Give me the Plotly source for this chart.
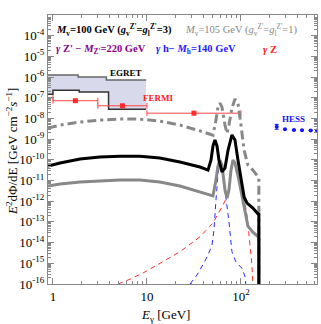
import plotly.graph_objects as go
import numpy as np

# ---------------- data ----------------
# black solid: M_v=100 GeV total
blk_E = [0.885, 1.19, 1.94, 3.16, 5.16, 8.43, 13.7, 22.4, 36.6, 44.6, 48.0, 50.4, 52.9, 55.6, 58.3, 62.8, 67.6, 72.8, 80.2, 86.3, 92.9, 100, 108, 116, 134, 152, 155, 155]
blk_F = [5.0e-11, 7.0e-11, 1.1e-10, 1.36e-10, 1.5e-10, 1.5e-10, 1.23e-10, 7.8e-11, 4.5e-11, 3.2e-11, 9.8e-11, 4.7e-10, 9.2e-10, 4.7e-10, 9.8e-11, 2.6e-11, 4.0e-11, 2.9e-10, 1.6e-9, 9.2e-10, 9.8e-11, 1.05e-11, 1.6e-12, 8.1e-13, 4.7e-13, 2.4e-13, 2.3e-13, 1e-18]

# gray solid
gs_E = [0.885, 1.19, 1.94, 3.16, 5.16, 8.43, 13.7, 22.4, 36.6, 50.4, 54.2, 56.9, 59.8, 62.8, 67.6, 71.0, 74.5, 78.3, 82.2, 86.3, 95.2, 105, 118.6, 134, 152, 155, 155]
gs_F = [5.4e-12, 6.8e-12, 8.5e-12, 9.5e-12, 1.05e-11, 1.05e-11, 8.5e-12, 5.4e-12, 2.8e-12, 1.8e-12, 1.05e-11, 5.0e-11, 9.8e-11, 5.6e-11, 3.5e-12, 1.4e-12, 3.5e-12, 3.2e-11, 9.8e-11, 7.1e-11, 1.05e-11, 1.15e-12, 6.3e-14, 3.2e-14, 1.9e-14, 1.8e-14, 1e-18]

# gray dash-dot: M_v=105 GeV
gd_E = [0.885, 1.19, 1.94, 3.16, 5.16, 8.43, 13.7, 22.4, 36.6, 50.4, 54.2, 56.9, 59.8, 62.8, 67.6, 71.0, 74.5, 80.2, 86.3, 92.9, 100, 108, 118.6, 134, 152, 155, 155]
gd_F = [3.4e-9, 4.8e-9, 6.8e-9, 8.3e-9, 9.3e-9, 9.3e-9, 7.4e-9, 4.8e-9, 2.5e-9, 1.55e-9, 8.3e-9, 3.5e-8, 5.5e-8, 3.5e-8, 4.8e-9, 1.9e-9, 4.8e-9, 3.2e-8, 8.7e-8, 5.5e-8, 4.8e-9, 2.9e-10, 5.6e-11, 3.2e-11, 1.5e-11, 1.4e-11, 1e-18]

# blue dashed: gamma h
bl_E = [28.7, 34.0, 39.3, 44.6, 49.2, 51.6, 54.2, 56.9, 59.8, 62.8, 67.6, 71.0, 74.5, 80.2, 88.4, 102, 110, 112.7]
bl_F = [1e-16, 2.7e-16, 8.3e-16, 2.5e-15, 7.6e-15, 4.1e-14, 1.15e-12, 1.9e-11, 7.8e-11, 3.2e-11, 3.5e-12, 6.6e-13, 1e-13, 3.6e-15, 1.15e-15, 5.9e-16, 2.4e-16, 1e-16]

# red dashed: gamma Z
rd_E = [4.92, 6.6, 9.5, 13.7, 22.4, 36.6, 50.4, 62.8, 71.0, 76.0, 80.2, 84.2, 88.4, 97.5, 108, 116, 124, 130, 134]
rd_F = [1e-16, 1.7e-16, 3.8e-16, 1.0e-15, 3.6e-15, 1.9e-14, 8.9e-14, 5.3e-13, 1.6e-12, 1.05e-11, 4.5e-11, 8.7e-11, 5.6e-11, 1.05e-11, 1.4e-12, 2.1e-13, 1.35e-14, 1.15e-15, 1e-16]

# EGRET band
egret_low_edges = [0.5, 1.0, 1.9, 3.9, 9.8]
egret_low = [1.5e-7, 2.3e-7, 1.9e-7, 2.8e-8]
egret_up_edges = [0.5, 1.85, 3.7, 9.8]
egret_up = [1.26e-6, 1.0e-6, 7.2e-7]

# FERMI points
fermi_E = [0.71, 1.73, 5.48, 31.6]
fermi_lo = [0.5, 1.0, 3.0, 10.0]
fermi_hi = [1.0, 3.0, 10.0, 100.0]
fermi_F = [1.0e-7, 7.2e-8, 4.1e-8, 1.8e-8]

# HESS points
hess_E = [240, 294, 366, 446, 552, 645]
hess_F = [4.0e-9, 3.0e-9, 2.75e-9, 2.7e-9, 2.65e-9, 2.6e-9]

# ---------------- figure ----------------
fig = go.Figure()

def steps(edges, vals):
    xs, ys = [], []
    for i, v in enumerate(vals):
        xs += [edges[i], edges[i + 1]]
        ys += [v, v]
    return xs, ys

ux, uy = steps(egret_up_edges, egret_up)
lx, ly = steps(egret_low_edges, egret_low)
fig.add_trace(go.Scatter(x=ux + lx[::-1], y=uy + ly[::-1], fill="toself",
                         fillcolor="#d9d9ec", line=dict(width=0), mode="lines",
                         hoverinfo="skip"))
fig.add_trace(go.Scatter(x=ux, y=uy, mode="lines", line=dict(color="#666666", width=1.5)))
fig.add_trace(go.Scatter(x=lx, y=ly, mode="lines", line=dict(color="#333333", width=1.5)))

# FERMI
fig.add_trace(go.Scatter(
    x=fermi_E, y=fermi_F, mode="markers",
    marker=dict(color="#ff2a2a", size=5, symbol="square"),
    error_x=dict(type="data", symmetric=False,
                 array=[h - e for h, e in zip(fermi_hi, fermi_E)],
                 arrayminus=[e - l for e, l in zip(fermi_E, fermi_lo)],
                 color="#ff4444", thickness=1, width=3)))

# curves
fig.add_trace(go.Scatter(x=rd_E, y=rd_F, mode="lines",
                         line=dict(color="#ff3030", width=1, dash="5px,4px")))
fig.add_trace(go.Scatter(x=bl_E, y=bl_F, mode="lines",
                         line=dict(color="#2a2aff", width=1, dash="5px,4px")))
fig.add_trace(go.Scatter(x=gs_E, y=gs_F, mode="lines",
                         line=dict(color="#888888", width=3)))
fig.add_trace(go.Scatter(x=gd_E, y=gd_F, mode="lines",
                         line=dict(color="#888888", width=3, dash="9px,4px,3px,4px")))
fig.add_trace(go.Scatter(x=blk_E, y=blk_F, mode="lines",
                         line=dict(color="black", width=3)))

# HESS
fig.add_trace(go.Scatter(
    x=hess_E, y=hess_F, mode="markers",
    marker=dict(color="#1515ff", size=4),
    error_y=dict(type="data", symmetric=False,
                 array=[1.2e-9, 0, 0, 0, 0, 0], arrayminus=[1.0e-9, 0, 0, 0, 0, 0],
                 color="#1515ff", thickness=1, width=2)))

serif = "Liberation Serif"
axcol = "#888888"
fig.update_layout(
    width=321, height=324,
    margin=dict(l=48, r=4, t=15, b=40),
    paper_bgcolor="white", plot_bgcolor="white",
    showlegend=False,
    font=dict(family=serif, size=13, color="black"),
)
fig.update_xaxes(
    type="log", range=[np.log10(0.885), np.log10(644)],
    showgrid=False, zeroline=False,
    showline=True, linecolor=axcol, linewidth=1, mirror="allticks",
    ticks="inside", ticklen=6, tickcolor=axcol,
    tickvals=[1, 10, 100], ticktext=["1", "10", "10<sup>2</sup>"],
    minor=dict(ticks="inside", ticklen=3, tickcolor=axcol, dtick="D1"),
    tickfont=dict(family=serif, size=13),
)
fig.update_yaxes(
    type="log", range=[-16, -3],
    showgrid=False, zeroline=False,
    showline=True, linecolor=axcol, linewidth=1, mirror="allticks",
    ticks="inside", ticklen=6, tickcolor=axcol,
    tickvals=[10.0 ** k for k in range(-16, -3)],
    ticktext=["10<sup>%d</sup>" % k for k in range(-16, -3)],
    minor=dict(ticks="inside", ticklen=3, tickcolor=axcol, dtick="D1"),
    tickfont=dict(family=serif, size=13),
)

def add(text, x, y, color="black", size=10, xanchor="left", angle=0):
    fig.add_annotation(text=text, x=x, y=y, xref="paper", yref="paper",
                       xanchor=xanchor, yanchor="middle", showarrow=False,
                       textangle=angle,
                       font=dict(family=serif, size=size, color=color))

W, H = 269.0, 269.0
def px(xp): return (xp - 48) / W
def py(yp): return (284 - yp) / H

add("<b><i>M</i><sub>v</sub>=100 GeV (<i>g</i><sub>v</sub><sup>Z'</sup>=<i>g</i><sub>l</sub><sup>Z'</sup>=3)</b>",
    px(54), py(30), "black", 10.5)
add("<i>M</i><sub>v</sub>=105 GeV (<i>g</i><sub>v</sub><sup>Z'</sup>=<i>g</i><sub>l</sub><sup>Z'</sup>=1)",
    px(183), py(30), "#888888", 10.5)
add("<b><i>γ</i> Z' − <i>M</i><sub>Z'</sub>=220 GeV</b>", px(54), py(50), "#8b008b", 10.5)
add("<b><i>γ</i> h− <i>M</i><sub>h</sub>=140 GeV</b>", px(154), py(50), "#2222ff", 10.5)
add("<b><i>γ</i> Z</b>", px(261), py(50), "#ff2020", 10.5)
add("<b>EGRET</b>", px(108), py(73), "black", 9)
add("<b>FERMI</b>", px(141), py(98), "#ff2020", 9)
add("<b>HESS</b>", px(280), py(119), "#1515ff", 9)

add("<i>E</i><sub>γ</sub> [GeV]", px(165), py(315), "black", 13, xanchor="center")
add("<i>E</i><sup>2</sup>dΦ/dE [GeV cm<sup>−2</sup><i>s</i><sup>−1</sup>]",
    px(12), py(152), "black", 13, xanchor="center", angle=-90)

fig.write_html("out.html", config={"displayModeBar": False},
               post_script="document.body.style.margin='0';")
